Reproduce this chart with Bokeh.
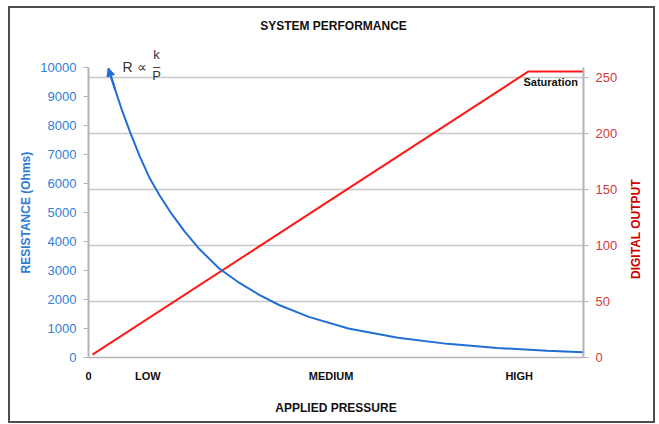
import math
from bokeh.plotting import figure
from bokeh.models import (Range1d, LinearAxis, Grid, FixedTicker, Title,
                          Label, Arrow, NormalHead)
from bokeh.embed import file_html
from bokeh.resources import INLINE

# ---- data ----
pressure = [4.0, 5.4, 6.8, 8.4, 10.4, 12.4, 14.4, 16.8, 19.4, 22.4, 26.4, 30.5, 34.5,
            38.5, 44.5, 52.5, 62.5, 72.5, 82.6, 92.6, 100]
resistance = [9980, 9230, 8510, 7770, 6920, 6170, 5580, 4950, 4350, 3740, 3070, 2570, 2160,
              1810, 1400, 1000, 680, 470, 330, 230, 180]
output_pressure = [0.8, 88.9, 100]
digital_output = [2.5, 255, 255]
x_tick_positions = [0, 12, 49, 87]
x_tick_labels = ["0", "LOW", "MEDIUM", "HIGH"]
left_ticks = [0, 1000, 2000, 3000, 4000, 5000, 6000, 7000, 8000, 9000, 10000]
right_ticks = [0, 50, 100, 150, 200, 250]
LEFT_MAX = 10000
RIGHT_MAX = 258.5

FONT = "Liberation Sans"
BLUE = "#1f6fd6"
RED = "#ff1a1a"
GRID = "#c8c8c8"
AXIS = "#b4b4b4"

W, H = 643, 413
MB_L, MB_R, MB_B, MB_T = 78, 66, 64, 0
frame_h = H - MB_B - MB_T
data_h = 290  # pixels used by the 0..max span of the value axes
top_factor = frame_h / data_h

p = figure(width=W, height=H, output_backend="svg", toolbar_location=None, title=None,
           x_range=Range1d(0, 100), y_range=Range1d(0, LEFT_MAX * top_factor),
           min_border_left=MB_L, min_border_right=MB_R,
           min_border_top=MB_T, min_border_bottom=MB_B)
p.margin = (8, 0, 0, 10)
p.styles = {"width": f"{W}px", "height": f"{H}px",
            "box-shadow": "0 0 0 2px #4f4f4f"}
p.extra_y_ranges = {"out": Range1d(0, RIGHT_MAX * top_factor)}
p.outline_line_color = None
p.xgrid.visible = False
p.ygrid.visible = False

# bottom axis
xa = p.below[0]
xa.ticker = FixedTicker(ticks=x_tick_positions)
xa.major_label_overrides = {t: l for t, l in zip(x_tick_positions, x_tick_labels)}
xa.major_tick_out = 0
xa.major_tick_in = 0
xa.minor_tick_out = 0
xa.minor_tick_in = 0
xa.axis_line_color = AXIS
xa.axis_line_width = 1.5
xa.major_label_text_font = FONT
xa.major_label_text_font_style = "bold"
xa.major_label_text_font_size = "11px"
xa.major_label_text_color = "#111111"
xa.major_label_standoff = 12
xa.axis_label = "APPLIED PRESSURE"
xa.axis_label_text_font = FONT
xa.axis_label_text_font_style = "bold"
xa.axis_label_text_font_size = "12px"
xa.axis_label_text_color = "#111111"
xa.axis_label_standoff = 16

# left axis
ya = p.left[0]
ya.ticker = FixedTicker(ticks=left_ticks)
ya.bounds = (0, LEFT_MAX)
ya.minor_tick_out = 0
ya.minor_tick_in = 0
ya.major_tick_in = 0
ya.major_tick_out = 5
ya.major_tick_line_color = AXIS
ya.axis_line_color = AXIS
ya.axis_line_width = 2
ya.major_label_text_font = FONT
ya.major_label_text_font_size = "13px"
ya.major_label_text_color = "#3080d8"
ya.major_label_standoff = 7

p.add_layout(Title(text="RESISTANCE (Ohms)", align="left", offset=84,
                   text_font=FONT, text_font_style="bold", text_font_size="12px",
                   text_color="#2f7bd4"), "left")

# right axis
ra = LinearAxis(y_range_name="out", ticker=FixedTicker(ticks=right_ticks))
ra.bounds = (0, RIGHT_MAX)
ra.minor_tick_out = 0
ra.minor_tick_in = 0
ra.major_tick_in = 0
ra.major_tick_out = 5
ra.major_tick_line_color = AXIS
ra.axis_line_color = AXIS
ra.axis_line_width = 2
ra.major_label_text_font = FONT
ra.major_label_text_font_size = "13px"
ra.major_label_text_color = "#d23a3a"
ra.major_label_standoff = 7
p.add_layout(ra, "right")

# right-hand axis title, reading bottom to top
rt = LinearAxis(y_range_name="out", ticker=FixedTicker(ticks=[70]))
rt.major_label_overrides = {70: "DIGITAL OUTPUT"}
rt.major_label_orientation = math.pi / 2
rt.major_tick_out = 0
rt.major_tick_in = 0
rt.minor_tick_out = 0
rt.minor_tick_in = 0
rt.axis_line_color = None
rt.major_label_standoff = 16
rt.major_label_text_font = FONT
rt.major_label_text_font_style = "bold"
rt.major_label_text_font_size = "12px"
rt.major_label_text_color = "#cc0000"
p.add_layout(rt, "right")

g = Grid(dimension=1, ticker=FixedTicker(ticks=right_ticks[1:]), y_range_name="out",
         grid_line_color=GRID, grid_line_width=1.5)
p.add_layout(g)

# series
p.line(output_pressure, digital_output, y_range_name="out", line_color=RED, line_width=2)
p.line(pressure, resistance, line_color=BLUE, line_width=2)
p.add_layout(Arrow(end=NormalHead(size=8, fill_color=BLUE, line_color=BLUE),
                   x_start=pressure[1], y_start=resistance[1],
                   x_end=pressure[0], y_end=resistance[0],
                   line_color=BLUE, line_width=2))

# texts (screen units relative to the frame's bottom-left corner)
def lab(text, x, y, size="12px", bold=False, color="#111111", align="center", angle=0):
    p.add_layout(Label(text=text, x=x, y=y, x_units="screen", y_units="screen",
                       text_font=FONT, text_font_size=size,
                       text_font_style="bold" if bold else "normal",
                       text_color=color, text_align=align, text_baseline="middle",
                       angle=angle))

lab("SYSTEM PERFORMANCE", 245, 332, size="12px", bold=True)
lab("Saturation", 435, 276, size="11px", bold=True, align="left")
lab("R \u221d", 34, 291, size="14px", color="#333333", align="left")
lab("k", 68, 303, size="13px", color="#333333")
lab("\u2013", 68, 291, size="13px", color="#333333")
lab("P", 68, 282, size="13px", color="#333333")

open("out.html", "w").write(file_html(p, INLINE))
